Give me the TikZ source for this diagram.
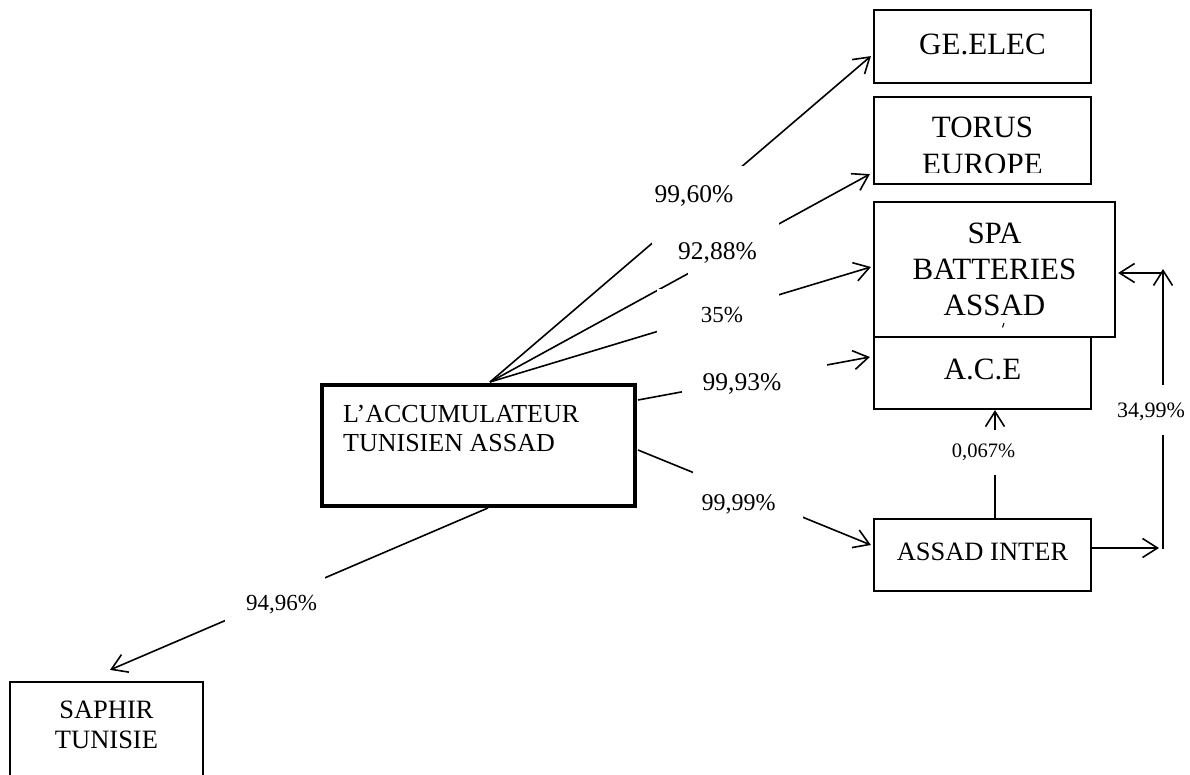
\documentclass[tikz,border=0pt]{standalone}
\usepackage{fontspec}
\setmainfont{Liberation Serif}
\usetikzlibrary{arrows.meta,calc}
\begin{document}
\begin{tikzpicture}[x=1pt,y=-1pt,
  box/.style={draw, line width=2.2pt, inner sep=0pt},
  conn/.style={line width=1.6pt},
  arr/.style={conn, -{Straight Barb[length=15pt,width=19pt]}},
  pct/.style={inner sep=0pt, anchor=base, font=\fontsize{25.5}{30}\selectfont},
  mask/.style={fill=white},
  big/.style={font=\fontsize{31}{36}\selectfont},
  mid/.style={font=\fontsize{26.5}{30}\selectfont},
]
\fill[white] (0,0) rectangle (1190,775);
\clip (0,0) rectangle (1190,775);

% boxes
\node[box, minimum width=217pt, minimum height=73pt, big] (ge) at (982.5,46.5) {\raisebox{4.5pt}{GE.ELEC}};
\node[box, minimum width=217pt, minimum height=87pt] (torus) at (982.5,140.5) {};
\begin{scope}
  \clip (876,99) rectangle (1089,173);
  \node[inner sep=0pt, anchor=base, big] (torusA) at (982.5,138) {TORUS};
  \node[inner sep=0pt, anchor=base, big] (torusB) at (982.5,175) {EUROPE};
\end{scope}
\node[box, minimum width=217pt, minimum height=79pt, big] (ace) at (982.5,369.5) {\raisebox{1.5pt}{A.C.E}};
\node[box, fill=white, minimum width=241pt, minimum height=135pt, align=center, big] (spa) at (994.5,269.5) {SPA\\BATTERIES\\ASSAD};
\draw[line width=1pt] (1002.5,327.5) -- (1004,323);
\node[box, minimum width=217pt, minimum height=72pt, mid] (inter) at (982.5,555) {\raisebox{7.5pt}{ASSAD INTER}};
\node[box, line width=4pt, minimum width=313pt, minimum height=121pt] (main) at (478.5,445.5) {};
\node[inner sep=0pt, anchor=north west, align=left, font=\fontsize{26}{29}\selectfont] (maintext) at (343,405) {L’ACCUMULATEUR\\TUNISIEN ASSAD};
\node[box, minimum width=193pt, minimum height=116pt] (saphir) at (106.5,740) {};
\node[inner sep=0pt, anchor=north, align=center, mid] (saphirtext) at (106.5,700.5) {SAPHIR\\TUNISIE};

% connectors
\coordinate (mtop) at ($(main.north west)+(170,-1)$);
\draw[arr] (mtop) -- ($(ge.south west)+(-2,-28)$);
\draw[arr] (mtop) -- ($(torus.south west)+(-3,-11)$);
\draw[arr] (mtop) -- ($(spa.west)+(-2,-2.5)$);
\draw[arr] ($(main.north east)+(1,17)$) -- ($(ace.west)+(-3,-12.5)$);
\draw[arr] ($(main.north east)+(1,67)$) -- ($(inter.west)+(-2,-10)$);
\draw[arr] ($(main.south west)+(168,0)$) -- ($(saphir.north)+(3.5,-11)$);
\draw[arr] ($(inter.north)+(12.5,0)$) -- ($(ace.south)+(12.5,0)$);
\coordinate (c1) at (1163,548);
\coordinate (c2) at (1163,269);
\draw[arr] (inter.east |- c1) -- ($(c1)+(-4,0)$);
\draw[arr] ($(c1)+(0,0.8)$) -- (c2);
\draw[arr] ($(c2)+(0,4)$) -- ($(spa.east)+(2,3.5)$);

% label masks
\fill[mask] (652,166) rectangle (762,244);
\fill[mask] (688,222) rectangle (779,276);
\fill[mask] (657,289) rectangle (779,350);
\fill[mask] (682,360) rectangle (827,398);
\fill[mask] (693,470) rectangle (803,521);
\fill[mask] (225,574) rectangle (325,623);
\fill[mask] (960,430) rectangle (1030,475);
\fill[mask] (1110,385) rectangle (1190,435);

% labels
\node[pct] (p1) at (694,203) {99,60\%};
\node[pct] (p2) at (717.5,260) {92,88\%};
\node[pct, font=\fontsize{23}{27}\selectfont] (p3) at (722,322) {35\%};
\node[pct] (p4) at (742,390) {99,93\%};
\node[pct, font=\fontsize{24}{28}\selectfont] (p5) at (738.5,510) {99,99\%};
\node[pct, font=\fontsize{23}{27}\selectfont] (p6) at (281.5,610) {94,96\%};
\node[pct, font=\fontsize{20.5}{24}\selectfont] (p7) at (983.5,457) {0,067\%};
\node[pct, font=\fontsize{22}{26}\selectfont] (p8) at (1151,417) {34,99\%};
\end{tikzpicture}
\end{document}
